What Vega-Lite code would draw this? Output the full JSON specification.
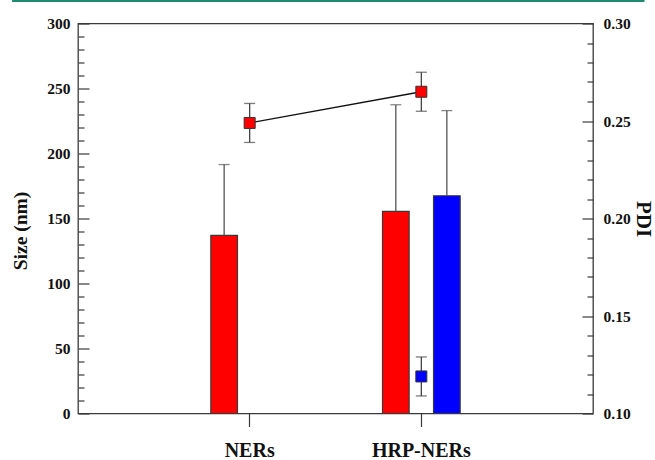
{
  "$schema": "https://vega.github.io/schema/vega-lite/v6.json",
  "width": 515,
  "height": 390,
  "autosize": "none",
  "padding": {"left": 78, "top": 23.5, "right": 62, "bottom": 46.5},
  "background": "white",
  "config": {
    "font": "Liberation Serif",
    "view": {"stroke": "#3a3a3a", "strokeWidth": 1.3},
    "axis": {
      "domain": false, "grid": false,
      "tickColor": "#3a3a3a", "tickWidth": 1.2,
      "labelFont": "Liberation Serif", "labelFontWeight": "bold", "labelFontSize": 15.5, "labelColor": "#111",
      "titleFont": "Liberation Serif", "titleFontWeight": "bold", "titleFontSize": 19.5, "titleColor": "#111"
    }
  },
  "datasets": {
    "size": [
      {"sample": "NERs", "series": "S1", "size": 137, "upper": 191.5},
      {"sample": "HRP-NERs", "series": "S1", "size": 155.5, "upper": 237.5},
      {"sample": "HRP-NERs", "series": "S2", "size": 167.5, "upper": 233}
    ],
    "pdi": [
      {"sample": "NERs", "series": "S1", "pdi": 0.249, "lo": 0.239, "hi": 0.259},
      {"sample": "HRP-NERs", "series": "S1", "pdi": 0.265, "lo": 0.255, "hi": 0.275},
      {"sample": "HRP-NERs", "series": "S2", "pdi": 0.119, "lo": 0.109, "hi": 0.129}
    ]
  },
  "layer": [
    {
      "data": {"name": "size"},
      "mark": {"type": "bar", "stroke": "#3a3a3a", "strokeWidth": 1.2},
      "encoding": {
        "x": {"field": "sample", "type": "nominal", "sort": ["NERs", "HRP-NERs"], "scale": {"type": "band", "domain": ["NERs", "HRP-NERs"], "paddingInner": 0.5, "paddingOuter": 0.75},
              "axis": {"orient": "bottom", "title": null, "labelAngle": 0, "tickSize": 13, "labelPadding": 14, "labelFontSize": 20}},
        "xOffset": {"field": "series", "type": "nominal", "scale": {"domain": ["S1", "S2"], "paddingInner": 0.478, "paddingOuter": 0.08}},
        "y": {"field": "size", "type": "quantitative", "scale": {"domain": [0, 300], "nice": false},
              "axis": {"orient": "left", "title": "Size (nm)", "values": [0, 50, 100, 150, 200, 250, 300],
                       "ticks": false, "labelPadding": 8, "titlePadding": 16, "titleY": 207}},
        "color": {"field": "series", "type": "nominal", "scale": {"domain": ["S1", "S2"], "range": ["#ff0000", "#0000ff"]}, "legend": null}
      }
    },
    {
      "data": {"name": "size"},
      "mark": {"type": "rule", "color": "#555555", "strokeWidth": 1.3},
      "encoding": {
        "x": {"field": "sample", "type": "nominal", "scale": {"type": "band", "domain": ["NERs", "HRP-NERs"], "paddingInner": 0.5, "paddingOuter": 0.75}, "axis": null},
        "xOffset": {"field": "series", "type": "nominal", "scale": {"domain": ["S1", "S2"], "paddingInner": 0.478, "paddingOuter": 0.08}},
        "y": {"field": "size", "type": "quantitative", "scale": {"domain": [0, 300], "nice": false},
              "axis": {"orient": "left", "title": null, "labels": false,
                       "values": [0,10,20,30,40,50,60,70,80,90,100,110,120,130,140,150,160,170,180,190,200,210,220,230,240,250,260,270,280,290,300],
                       "tickSize": {"condition": {"test": "datum.value % 50 === 0", "value": -11}, "value": -6}}},
        "y2": {"field": "upper"}
      }
    },
    {
      "data": {"name": "size"},
      "mark": {"type": "tick", "color": "#555555", "size": 11, "thickness": 1.3, "orient": "horizontal"},
      "encoding": {
        "x": {"field": "sample", "type": "nominal", "scale": {"type": "band", "domain": ["NERs", "HRP-NERs"], "paddingInner": 0.5, "paddingOuter": 0.75}, "axis": null},
        "xOffset": {"field": "series", "type": "nominal", "scale": {"domain": ["S1", "S2"], "paddingInner": 0.478, "paddingOuter": 0.08}},
        "y": {"field": "upper", "type": "quantitative", "scale": {"domain": [0, 300], "nice": false}, "axis": null}
      }
    },
    {
      "data": {"name": "pdi"},
      "transform": [{"filter": "datum.series === 'S1'"}],
      "mark": {"type": "line", "color": "#111111", "strokeWidth": 1.4},
      "encoding": {
        "x": {"field": "sample", "type": "nominal", "sort": ["NERs", "HRP-NERs"], "scale": {"type": "band", "domain": ["NERs", "HRP-NERs"], "paddingInner": 0.5, "paddingOuter": 0.75}, "axis": null},
        "y": {"field": "pdi", "type": "quantitative", "scale": {"domain": [0.1, 0.3], "nice": false, "zero": false}, "axis": null}
      }
    },
    {
      "data": {"name": "pdi"},
      "mark": {"type": "rule", "color": "#444444", "strokeWidth": 1.3},
      "encoding": {
        "x": {"field": "sample", "type": "nominal", "scale": {"type": "band", "domain": ["NERs", "HRP-NERs"], "paddingInner": 0.5, "paddingOuter": 0.75}, "axis": null},
        "y": {"field": "lo", "type": "quantitative", "scale": {"domain": [0.1, 0.3], "nice": false, "zero": false},
              "axis": {"orient": "right", "title": null, "labels": false,
                       "values": [0.1,0.11,0.12,0.13,0.14,0.15,0.16,0.17,0.18,0.19,0.2,0.21,0.22,0.23,0.24,0.25,0.26,0.27,0.28,0.29,0.3],
                       "tickSize": {"condition": {"test": "round(datum.value * 100) % 5 === 0", "value": -11}, "value": -6}}},
        "y2": {"field": "hi"}
      }
    },
    {
      "data": {"name": "pdi"},
      "mark": {"type": "tick", "color": "#444444", "size": 11, "thickness": 1.3, "orient": "horizontal"},
      "encoding": {
        "x": {"field": "sample", "type": "nominal", "scale": {"type": "band", "domain": ["NERs", "HRP-NERs"], "paddingInner": 0.5, "paddingOuter": 0.75}, "axis": null},
        "y": {"field": "lo", "type": "quantitative", "scale": {"domain": [0.1, 0.3], "nice": false, "zero": false}, "axis": null}
      }
    },
    {
      "data": {"name": "pdi"},
      "mark": {"type": "tick", "color": "#444444", "size": 11, "thickness": 1.3, "orient": "horizontal"},
      "encoding": {
        "x": {"field": "sample", "type": "nominal", "scale": {"type": "band", "domain": ["NERs", "HRP-NERs"], "paddingInner": 0.5, "paddingOuter": 0.75}, "axis": null},
        "y": {"field": "hi", "type": "quantitative", "scale": {"domain": [0.1, 0.3], "nice": false, "zero": false}, "axis": null}
      }
    },
    {
      "data": {"name": "pdi"},
      "mark": {"type": "square", "size": 121, "opacity": 1, "stroke": "#333333", "strokeWidth": 1, "filled": true},
      "encoding": {
        "x": {"field": "sample", "type": "nominal", "scale": {"type": "band", "domain": ["NERs", "HRP-NERs"], "paddingInner": 0.5, "paddingOuter": 0.75}, "axis": null},
        "y": {"field": "pdi", "type": "quantitative", "scale": {"domain": [0.1, 0.3], "nice": false, "zero": false},
              "axis": {"orient": "right", "title": "PDI", "titleAngle": 90, "titleFontSize": 21, "format": ".2f",
                       "values": [0.1, 0.15, 0.2, 0.25, 0.3], "ticks": false,
                       "labelPadding": 10, "titlePadding": 2}},
        "color": {"field": "series", "type": "nominal", "scale": {"domain": ["S1", "S2"], "range": ["#ff0000", "#0000ff"]}, "legend": null}
      }
    },
    {
      "data": {"values": [{"k": 1}]},
      "mark": {"type": "rule", "color": "#1f8a70", "strokeWidth": 2},
      "encoding": {
        "x": {"datum": -0.128, "type": "quantitative", "scale": {"domain": [0, 1], "nice": false}, "axis": null},
        "x2": {"datum": 1.1},
        "y": {"datum": 1.058, "type": "quantitative", "scale": {"domain": [0, 1], "nice": false}, "axis": null}
      }
    }
  ],
  "resolve": {"scale": {"x": "independent", "y": "independent", "xOffset": "independent", "color": "independent"}}
}
